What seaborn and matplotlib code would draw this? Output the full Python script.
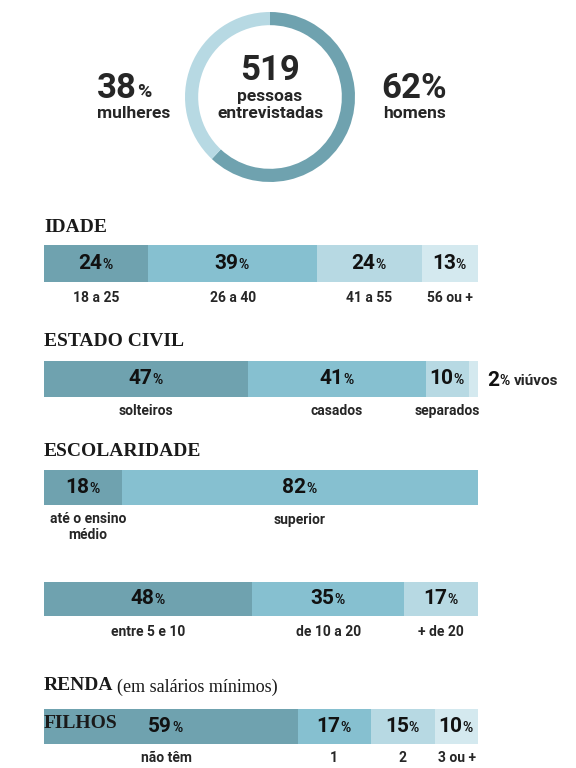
import matplotlib
matplotlib.use("Agg")
import matplotlib.pyplot as plt
import seaborn as sns
import numpy as np

sns.set_theme(style="white")
plt.rcParams['font.family'] = ['Roboto', 'DejaVu Sans']

DARK, MID, LIGHT, PALE = "#6fa2af", "#86c0d0", "#b7d9e3", "#d4e9ef"

gender_labels = ["homens", "mulheres"]
gender_values = [62, 38]
total_people = 519

idade_labels = ["18 a 25", "26 a 40", "41 a 55", "56 ou +"]
idade_values = [24, 39, 24, 13]
civil_labels = ["solteiros", "casados", "separados", "viúvos"]
civil_values = [47, 41, 10, 2]
escol_labels = ["até o ensino\nmédio", "superior"]
escol_values = [18, 82]
renda_labels = ["entre 5 e 10", "de 10 a 20", "+ de 20"]
renda_values = [48, 35, 17]
filhos_labels = ["não têm", "1", "2", "3 ou +"]
filhos_values = [59, 17, 15, 10]

W, H = 576, 768
fig = plt.figure(figsize=(5.76, 7.68), dpi=100)
bg = fig.add_axes([0, 0, 1, 1])
bg.set_xlim(0, W); bg.set_ylim(H, 0); bg.axis("off")

def pct(ax, x, y, num, size=15, psize=10, color="#111"):
    ax.text(x, y, str(num), fontsize=size, fontweight="bold", ha="right", va="center", color=color)
    ax.text(x, y + size * 0.08, "%", fontsize=psize, fontweight="bold", ha="left", va="center", color=color)

# donut
cx, cy, r = 270, 97, 85
dax = fig.add_axes([(cx - r) / W, 1 - (cy + r) / H, 2 * r / W, 2 * r / H])
dax.pie(gender_values, colors=[DARK, LIGHT], startangle=90, counterclock=False,
        wedgeprops=dict(width=0.155, edgecolor="none"), radius=1.0)
dax.set_xlim(-1, 1); dax.set_ylim(-1, 1)
dax.set_aspect("auto")
bg.text(cx, 70, str(total_people), fontsize=25, fontweight="bold", ha="center", va="center")
bg.text(cx, 96, "pessoas", fontsize=12.5, fontweight="bold", ha="center", va="center")
bg.text(cx, 113, "entrevistadas", fontsize=12.5, fontweight="bold", ha="center", va="center")
bg.text(137, 88, str(gender_values[1]), fontsize=25, fontweight="bold", ha="right", va="center")
bg.text(137, 92, "%", fontsize=14, fontweight="bold", ha="left", va="center")
bg.text(134, 114, gender_labels[1], fontsize=12.5, fontweight="bold", ha="center", va="center")
bg.text(414, 88, f"{gender_values[0]}%", fontsize=25, fontweight="bold", ha="center", va="center")
bg.text(414, 114, gender_labels[0], fontsize=12.5, fontweight="bold", ha="center", va="center")

X0, X1 = 44, 478
def bar(top, bottom, values, colors):
    ax = fig.add_axes([X0 / W, 1 - bottom / H, (X1 - X0) / W, (bottom - top) / H])
    lefts = np.concatenate([[0], np.cumsum(values)[:-1]])
    ax.barh([0] * len(values), values, left=lefts, color=colors, height=1.0, edgecolor="none")
    ax.set_xlim(0, sum(values)); ax.set_ylim(-0.5, 0.5); ax.axis("off")
    centers = [X0 + (l + v / 2) / sum(values) * (X1 - X0) for l, v in zip(lefts, values)]
    return centers, (top + bottom) / 2

def head(y, s):
    bg.text(44, y, s, fontsize=14, fontweight="bold", family="Liberation Serif",
            ha="left", va="center", color="#1a1a1a")

head(228, "IDADE")
c, m = bar(245, 282, idade_values, [DARK, MID, LIGHT, PALE])
for x, v, lab in zip(c, idade_values, idade_labels):
    pct(bg, x + 6, m, v)
    bg.text(x, 298, lab, fontsize=10, fontweight="bold", ha="center", va="center")

head(342, "ESTADO CIVIL")
c, m = bar(361, 397, civil_values, [DARK, MID, LIGHT, PALE])
for x, v in zip(c[:3], civil_values[:3]):
    pct(bg, x + 6, m, v)
for x, lab in zip(c[:3], civil_labels[:3]):
    bg.text(x, 411, lab, fontsize=10, fontweight="bold", ha="center", va="center")
pct(bg, 499, 380, civil_values[3])
bg.text(514, 381, civil_labels[3], fontsize=11, fontweight="bold", ha="left", va="center")

head(452, "ESCOLARIDADE")
c, m = bar(470, 505, escol_values, [DARK, MID])
for x, v in zip(c, escol_values):
    pct(bg, x + 6, m, v)
bg.text(88, 527, escol_labels[0], fontsize=10, fontweight="bold", ha="center", va="center",
        linespacing=1.1)
bg.text(c[1], 520, escol_labels[1], fontsize=10, fontweight="bold", ha="center", va="center")

c, m = bar(582, 616, renda_values, [DARK, MID, LIGHT])
for x, v, lab in zip(c, renda_values, renda_labels):
    pct(bg, x + 6, m, v)
    bg.text(x, 632, lab, fontsize=10, fontweight="bold", ha="center", va="center")
head(686, "RENDA")
bg.text(117, 687, "(em salários mínimos)", fontsize=13, family="Liberation Serif",
        ha="left", va="center", color="#1a1a1a")

c, m = bar(709, 744, filhos_values, [DARK, MID, LIGHT, PALE])
bg.text(44, 724, "FILHOS", fontsize=14, fontweight="bold", family="Liberation Serif",
        ha="left", va="center", color="#1a1a1a")
pct(bg, 172, m, filhos_values[0])
for x, v in zip(c[1:], filhos_values[1:]):
    pct(bg, x + 6, m, v)
for x, lab in zip([166, c[1], c[2], c[3]], filhos_labels):
    bg.text(x, 758, lab, fontsize=10, fontweight="bold", ha="center", va="center")
bg.set_zorder(3); bg.patch.set_visible(False)

fig.savefig("out.png", dpi=100)
